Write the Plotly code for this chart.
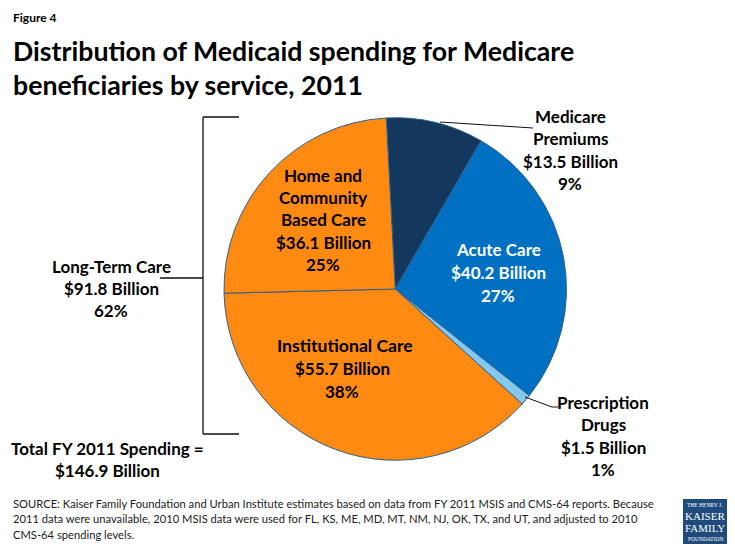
import plotly.graph_objects as go

W, H = 735, 551
services = ["Medicare Premiums", "Acute Care", "Prescription Drugs", "Institutional Care", "Home and Community Based Care"]
spending = [13.5, 40.2, 1.5, 55.7, 36.1]
colors = ["#14375E", "#0071C2", "#85C8EE", "#FF8A11", "#FF8A11"]

FONT = "Lato"

def px(x): return x / W
def py(y): return 1 - y / H

fig = go.Figure(go.Pie(
    labels=services, values=spending, sort=False, direction="clockwise", rotation=-3,
    marker=dict(colors=colors, line=dict(color="#2F5F8F", width=1)),
    textinfo="none", hoverinfo="label+value", showlegend=False,
    domain=dict(x=[px(224), px(566.5)], y=[py(461), py(117)]),
))

labels = [
    (13, 17, "Figure 4", 12, "#000", "left", True),
    (13, 51, "Distribution of Medicaid spending for Medicare", 26.7, "#000", "left", True),
    (13, 85, "beneficiaries by service, 2011", 26.7, "#000", "left", True),
    (570, 116, "Medicare", 17, "#000", "center", True),
    (570, 138, "Premiums", 17, "#000", "center", True),
    (570, 161, "$13.5 Billion", 17, "#000", "center", True),
    (570, 183, "9%", 17, "#000", "center", True),
    (323, 175, "Home and", 17, "#000", "center", True),
    (323, 197, "Community", 17, "#000", "center", True),
    (323, 220, "Based Care", 17, "#000", "center", True),
    (323, 242, "$36.1 Billion", 17, "#000", "center", True),
    (323, 264, "25%", 17, "#000", "center", True),
    (498, 250, "Acute Care", 17, "#fff", "center", True),
    (498, 272, "$40.2 Billion", 17, "#fff", "center", True),
    (498, 295, "27%", 17, "#fff", "center", True),
    (345, 346, "Institutional Care", 17.6, "#000", "center", True),
    (342, 368, "$55.7 Billion", 17, "#000", "center", True),
    (342, 391, "38%", 17, "#000", "center", True),
    (603, 402, "Prescription", 17, "#000", "center", True),
    (603, 424, "Drugs", 17, "#000", "center", True),
    (603, 447, "$1.5 Billion", 17, "#000", "center", True),
    (603, 469, "1%", 17, "#000", "center", True),
    (111, 266, "Long-Term Care", 17, "#000", "center", True),
    (111, 288, "$91.8 Billion", 17, "#000", "center", True),
    (111, 310, "62%", 17, "#000", "center", True),
    (107, 448, "Total FY 2011 Spending =", 17, "#000", "center", True),
    (107, 470, "$146.9 Billion", 17, "#000", "center", True),
    (13, 503, "SOURCE: Kaiser Family Foundation and Urban Institute estimates based on data from FY 2011 MSIS and CMS-64 reports. Because", 11.2, "#222", "left", False),
    (13, 518, "2011 data were unavailable, 2010 MSIS data were used for FL, KS, ME, MD, MT, NM, NJ, OK, TX, and UT, and adjusted to 2010", 11.2, "#222", "left", False),
    (13, 534, "CMS-64 spending levels.", 11.2, "#222", "left", False),
    (705, 505, "THE HENRY J.", 5.5, "#fff", "center", False),
    (705, 516, "KAISER", 11, "#fff", "center", False),
    (705, 528, "FAMILY", 11, "#fff", "center", False),
    (705, 539, "FOUNDATION", 5.5, "#fff", "center", False),
]
annotations = []
for x, y, text, size, color, anchor, bold in labels:
    annotations.append(dict(
        x=px(x), y=py(y), xref="paper", yref="paper", xanchor=anchor, yanchor="middle",
        text=f"<b>{text}</b>" if bold else text, showarrow=False, borderpad=0, borderwidth=0,
        font=dict(family="Liberation Serif" if size in (5.5, 11) else FONT, size=size, color=color),
    ))

segments = [
    (239, 117, 203, 117), (203, 117, 203, 434), (203, 434, 239, 434),
    (160, 278, 203, 278),
    (440, 122, 533, 128),
    (525, 397, 552, 407), (552, 407, 558, 407),
]
shapes = [dict(type="line", xref="paper", yref="paper", x0=px(a), y0=py(b), x1=px(c), y1=py(d),
               line=dict(color="#111", width=1.3 if i < 4 else 1))
          for i, (a, b, c, d) in enumerate(segments)]
shapes.append(dict(type="rect", xref="paper", yref="paper", x0=px(683), x1=px(727), y0=py(544), y1=py(499),
                   fillcolor="#1F4A7D", line=dict(width=0)))

fig.update_layout(
    width=W, height=H, margin=dict(l=0, r=0, t=0, b=0), paper_bgcolor="#fff",
    annotations=annotations, shapes=shapes, font=dict(family=FONT),
)
fig.write_html("out.html", config=dict(displayModeBar=False),
               post_script="document.body.style.margin='0';")
